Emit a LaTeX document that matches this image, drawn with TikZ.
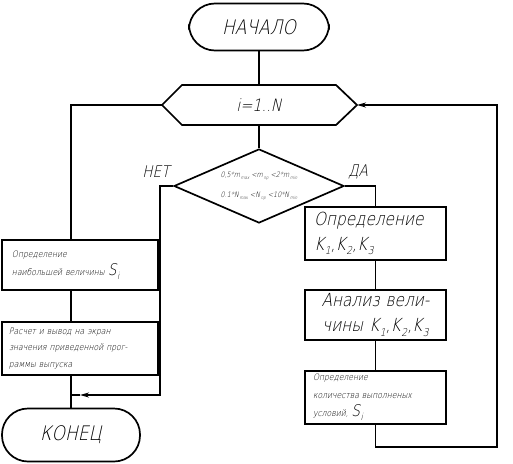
\documentclass[tikz,border=0pt]{standalone}
\usepackage{fontspec}
\usepackage{graphicx}
\setmainfont{DejaVu Sans ExtraLight}[FakeSlant=0.22,FakeStretch=0.85]
\usetikzlibrary{shapes.geometric,arrows.meta}
\newcommand\sbs[1]{\kern0.8pt\raisebox{-0.45ex}{\scalebox{0.6}{#1}}}
\begin{document}
\begin{tikzpicture}[x=1pt,y=-1pt,
  line/.style={line width=1.7pt},
  term/.style={line, draw, rectangle, rounded corners=26pt, inner sep=0pt},
  block/.style={line, draw, rectangle, inner sep=0pt},
  arr/.style={line, -{Stealth[length=9pt,width=5pt]}},
  big/.style={font=\fontsize{18}{25}\selectfont},
  small/.style={font=\fontsize{9}{18}\selectfont}]
\useasboundingbox (0,0) rectangle (513,463);
% terminals
\node[term, minimum width=140pt, minimum height=47pt, font=\fontsize{20}{24}\selectfont] (start) at (259,27) {НАЧАЛО};
\node[term, minimum width=138pt, minimum height=53pt, font=\fontsize{20}{24}\selectfont] (end) at (71,435) {КОНЕЦ};
% loop hexagon
\coordinate (loopL) at (162,105);
\coordinate (loopR) at (357,105);
\coordinate (loopT) at (259,85);
\coordinate (loopB) at (259,125);
\draw[line] (loopL) -- (182,85) -- (336,85) -- (loopR) -- (336,125) -- (182,125) -- cycle;
\node[font=\fontsize{17}{20}\selectfont] (loop) at (259,105) {i=1..N};
% condition
\node[line, draw, diamond, aspect=2.3, minimum width=170pt, minimum height=74pt, inner sep=0pt,
      font=\fontsize{7.5}{20}\selectfont, align=center] (cond) at (259,186)
  {0,5*m\sbs{max} <m\sbs{пр} <2*m\sbs{min}\\0.1*N\sbs{max} <N\sbs{пр} <10*N\sbs{min}};
\node[font=\fontsize{16}{20}\selectfont] (no) at (156,172) {НЕТ};
\node[font=\fontsize{16}{20}\selectfont] (yes) at (358,172) {ДА};
% right blocks
\node[block, big, minimum width=141pt, minimum height=53pt, text width=123pt, align=left] (k1) at (375.5,233.5)
  {Определение\\K\sbs{1},K\sbs{2},K\sbs{3}};
\node[block, big, minimum width=141pt, minimum height=50pt, text width=135pt, align=center] (k2) at (375.5,315)
  {Анализ вели-\\чины K\sbs{1},K\sbs{2},K\sbs{3}};
\node[block, small, minimum width=141pt, minimum height=53pt, text width=125pt, align=left] (k3) at (375.5,397.5)
  {Определение\\количества выполненых\\условий, {\fontsize{16}{16}\selectfont S\sbs{i}}};
% left blocks
\node[block, small, minimum width=156pt, minimum height=50pt, text width=136pt, align=left] (s1) at (80,265)
  {Определение\\наибольшей величины {\fontsize{16}{16}\selectfont S\sbs{i}}};
\node[block, small, minimum width=156pt, minimum height=53pt, text width=142pt, align=left, font=\fontsize{9}{16.5}\selectfont] (s2) at (80,348.5)
  {Расчет и вывод на экран\\значения приведенной прог-\\раммы выпуска};
% helper coordinates
\coordinate (a1) at (71,105);
\coordinate (s1t) at (71,240);
\coordinate (s1b) at (71,290);
\coordinate (s2t) at (71,322);
\coordinate (s2b) at (71,375);
\coordinate (endt) at (71,408.5);
\coordinate (n1) at (160,186);
\coordinate (n2) at (160,395);
\coordinate (n3) at (80,395);
\coordinate (n4) at (71,395);
\coordinate (y1) at (375.5,186);
\coordinate (r1) at (375.5,447);
\coordinate (r2) at (497,447);
\coordinate (r3) at (497,105);
% connectors
\draw[line] (start.south) -- (loopT);
\draw[line] (loopL) -- (a1) -- (s1t);
\draw[line] (s1b) -- (s2t);
\draw[line] (s2b) -- (endt);
\draw[line] (loopB) -- (cond.north);
\draw[arr] (cond.west) -- (n1) -- (n2) -- (n3);
\draw[line] (n3) -- (n4);
\draw[line] (cond.east) -- (y1) -- (k1.north);
\draw[line] (k1.south) -- (k2.north);
\draw[line] (k2.south) -- (k3.north);
\draw[arr] (k3.south) -- (r1) -- (r2) -- (r3) -- (loopR);
\end{tikzpicture}
\end{document}
